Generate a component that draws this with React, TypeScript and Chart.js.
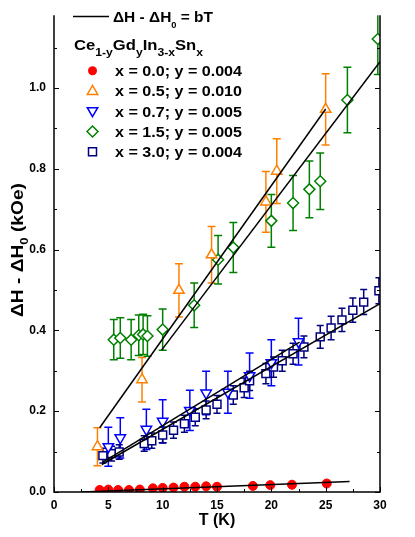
import React, { useEffect, useRef } from "react";
import { Chart, registerables } from "chart.js";
Chart.register(...registerables);

const FAM = '"Liberation Sans", Arial, Helvetica, sans-serif';

// x = 0.0 ; y = 0.004  (red circles)
const tX00 = [4.2, 5.0, 5.9, 6.9, 7.9, 9.1, 10.0, 11.0, 12.0, 13.0, 14.0, 15.0, 18.3, 19.9, 21.9, 25.1];
const vX00 = [0.005, 0.006, 0.005, 0.005, 0.006, 0.009, 0.010, 0.011, 0.013, 0.013, 0.014, 0.013, 0.015, 0.017, 0.018, 0.021];
// x = 0.5 ; y = 0.010 (orange up-triangles)
const tX05 = [4.0, 8.1, 11.5, 14.5, 19.5, 20.5, 25.0];
const vX05 = [0.112, 0.278, 0.499, 0.587, 0.718, 0.794, 0.947];
const eX05 = [0.047, 0.055, 0.066, 0.070, 0.075, 0.080, 0.088];
// x = 0.7 ; y = 0.005 (blue down-triangles)
const tX07 = [5.0, 6.1, 8.5, 10.0, 12.5, 14.0, 16.0, 18.0, 20.0, 22.5];
const vX07 = [0.112, 0.134, 0.155, 0.175, 0.202, 0.245, 0.247, 0.288, 0.320, 0.372];
const eX07 = [0.048, 0.050, 0.050, 0.053, 0.050, 0.054, 0.052, 0.056, 0.057, 0.058];
// x = 1.5 ; y = 0.005 (green diamonds)
const tX15 = [5.5, 6.1, 7.1, 7.8, 8.2, 8.6, 10.0, 12.9, 15.1, 16.5, 20.0, 22.0, 23.5, 24.5, 27.0, 29.8];
const vX15 = [0.377, 0.381, 0.377, 0.388, 0.390, 0.386, 0.402, 0.462, 0.575, 0.605, 0.671, 0.715, 0.749, 0.769, 0.970, 1.121];
const eX15 = [0.050, 0.050, 0.050, 0.050, 0.050, 0.050, 0.051, 0.055, 0.060, 0.062, 0.065, 0.068, 0.070, 0.070, 0.081, 0.088];
// x = 3.0 ; y = 0.004 (navy squares)
const tX30 = [4.5, 5.3, 6.0, 8.3, 9.0, 10.0, 11.0, 12.0, 13.0, 14.0, 15.0, 16.5, 17.5, 18.0, 19.5, 20.2, 21.0, 22.0, 23.0, 24.5, 25.5, 26.5, 27.5, 28.5, 29.9];
const vX30 = [0.090, 0.095, 0.099, 0.120, 0.127, 0.141, 0.153, 0.169, 0.185, 0.203, 0.217, 0.240, 0.258, 0.275, 0.293, 0.309, 0.325, 0.342, 0.359, 0.384, 0.406, 0.426, 0.450, 0.470, 0.498];
const eX30 = [0.018, 0.018, 0.018, 0.019, 0.019, 0.020, 0.020, 0.021, 0.021, 0.022, 0.022, 0.023, 0.024, 0.024, 0.025, 0.025, 0.026, 0.026, 0.027, 0.028, 0.029, 0.029, 0.030, 0.031, 0.032];

// linear fits  ΔH - ΔH0 = bT
const fitT00 = [2.6, 27.2];
const fitV00 = [0.0, 0.026];
const fitT05 = [4.2, 25.0];
const fitV05 = [0.159, 0.948];
const fitT07 = [4.5, 22.6];
const fitV07 = [0.074, 0.371];
const fitT15 = [9.9, 30.0];
const fitV15 = [0.351, 1.065];
const fitT30 = [4.4, 30.0];
const fitV30 = [0.068, 0.466];

const legendLabels = [
  "x = 0.0; y = 0.004",
  "x = 0.5; y = 0.010",
  "x = 0.7; y = 0.005",
  "x = 1.5; y = 0.005",
  "x = 3.0; y = 0.004",
];
const xTitle = "T (K)";

const RED = "#ff0000";
const ORANGE = "#ff8000";
const BLUE = "#0000ff";
const GREEN = "#008000";
const NAVY = "#000080";

const pts = (t: number[], v: number[]) => t.map((x, i) => ({ x, y: v[i] }));

function drawRich(
  ctx: CanvasRenderingContext2D,
  parts: [string, boolean][],
  x: number,
  y: number,
  size: number,
  subSize: number,
  subDy: number,
  targetW?: number
) {
  const fm = `bold ${size}px ${FAM}`;
  const fs = `bold ${subSize}px ${FAM}`;
  const widths = parts.map(([t, sub]) => {
    ctx.font = sub ? fs : fm;
    return ctx.measureText(t).width;
  });
  const total = widths.reduce((a, b) => a + b, 0);
  const sx = targetW ? targetW / total : 1;
  ctx.save();
  ctx.translate(x, y);
  ctx.scale(sx, 1);
  ctx.textBaseline = "alphabetic";
  ctx.textAlign = "left";
  ctx.fillStyle = "#000";
  let cx = 0;
  parts.forEach(([t, sub], i) => {
    ctx.font = sub ? fs : fm;
    ctx.fillText(t, cx, sub ? subDy : 0);
    cx += widths[i];
  });
  ctx.restore();
  return total * sx;
}

function drawMarker(ctx: CanvasRenderingContext2D, kind: string, x: number, y: number, color: string) {
  ctx.save();
  ctx.lineWidth = 1.5;
  ctx.strokeStyle = color;
  ctx.fillStyle = "#fff";
  ctx.beginPath();
  if (kind === "circle") {
    ctx.fillStyle = color;
    ctx.arc(x, y, 4.5, 0, Math.PI * 2);
    ctx.fill();
  } else {
    if (kind === "up") {
      ctx.moveTo(x, y - 5.5);
      ctx.lineTo(x + 5.2, y + 3.5);
      ctx.lineTo(x - 5.2, y + 3.5);
    } else if (kind === "down") {
      ctx.moveTo(x, y + 5.5);
      ctx.lineTo(x + 5.2, y - 3.5);
      ctx.lineTo(x - 5.2, y - 3.5);
    } else if (kind === "diamond") {
      ctx.moveTo(x - 5.5, y);
      ctx.lineTo(x, y - 5.5);
      ctx.lineTo(x + 5.5, y);
      ctx.lineTo(x, y + 5.5);
    } else {
      ctx.rect(x - 4, y - 4, 8, 8);
    }
    ctx.closePath();
    ctx.fill();
    ctx.stroke();
  }
  ctx.restore();
}

const errorBarPlugin = {
  id: "errorBars",
  beforeDatasetsDraw(chart: any) {
    const { ctx, chartArea } = chart;
    const xs = chart.scales.x;
    const ys = chart.scales.y;
    ctx.save();
    ctx.beginPath();
    ctx.rect(chartArea.left, chartArea.top, chartArea.right - chartArea.left, chartArea.bottom - chartArea.top);
    ctx.clip();
    chart.data.datasets.forEach((ds: any) => {
      if (!ds.errors) return;
      ctx.strokeStyle = ds.borderColor;
      ctx.lineWidth = 1.5;
      const cap = ds.capHalf || 4;
      ds.data.forEach((p: any, i: number) => {
        const e = ds.errors[i];
        const px = xs.getPixelForValue(p.x);
        const y1 = ys.getPixelForValue(p.y + e);
        const y2 = ys.getPixelForValue(p.y - e);
        ctx.beginPath();
        ctx.moveTo(px, y1);
        ctx.lineTo(px, y2);
        ctx.moveTo(px - cap, y1);
        ctx.lineTo(px + cap, y1);
        ctx.moveTo(px - cap, y2);
        ctx.lineTo(px + cap, y2);
        ctx.stroke();
      });
    });
    ctx.restore();
  },
};

const framePlugin = {
  id: "frame",
  afterDatasetsDraw(chart: any) {
    const { ctx, chartArea } = chart;
    const xs = chart.scales.x;
    const ys = chart.scales.y;
    const { left, right, bottom, top } = chartArea;
    ctx.save();
    ctx.strokeStyle = "#000";
    ctx.lineWidth = 1.5;
    ctx.beginPath();
    ctx.moveTo(left, top);
    ctx.lineTo(left, bottom);
    ctx.lineTo(right, bottom);
    ctx.lineTo(right, top);
    ctx.stroke();
    ctx.lineWidth = 1;
    ctx.beginPath();
    for (let v = 0; v <= 30.001; v += 2.5) {
      const major = Math.abs(v / 5 - Math.round(v / 5)) < 1e-6;
      const px = Math.round(xs.getPixelForValue(v)) + 0.5;
      const len = major ? 5 : 3;
      ctx.moveTo(px, bottom);
      ctx.lineTo(px, bottom - len);
    }
    for (let v = 0; v <= 1.1501; v += 0.1) {
      const major = Math.abs(v / 0.2 - Math.round(v / 0.2)) < 1e-6;
      const py = Math.round(ys.getPixelForValue(v)) + 0.5;
      const len = major ? 5 : 3;
      ctx.moveTo(left, py);
      ctx.lineTo(left + len, py);
      ctx.moveTo(right, py);
      ctx.lineTo(right - len, py);
    }
    ctx.stroke();
    ctx.restore();
  },
  afterDraw(chart: any) {
    const { ctx, chartArea } = chart;
    // x title
    ctx.save();
    ctx.font = `bold 16px ${FAM}`;
    ctx.fillStyle = "#000";
    ctx.textAlign = "center";
    ctx.textBaseline = "alphabetic";
    ctx.fillText(xTitle, (chartArea.left + chartArea.right) / 2, 525);
    ctx.restore();
    // y title
    ctx.save();
    ctx.translate(23, 250);
    ctx.rotate(-Math.PI / 2);
    drawRich(ctx, [["ΔH - ΔH", false], ["0", true], [" (kOe)", false]], -67, 0, 16, 11, 5, 134);
    ctx.restore();
    // legend
    ctx.save();
    ctx.strokeStyle = "#000";
    ctx.lineWidth = 1.5;
    ctx.beginPath();
    ctx.moveTo(73, 16.5);
    ctx.lineTo(109, 16.5);
    ctx.stroke();
    ctx.restore();
    drawRich(ctx, [["ΔH - ΔH", false], ["0", true], [" = bT", false]], 113, 22, 15, 9, 6, 100);
    drawRich(
      ctx,
      [["Ce", false], ["1-y", true], ["Gd", false], ["y", true], ["In", false], ["3-x", true], ["Sn", false], ["x", true]],
      74, 50, 15, 11, 6, 129
    );
    const kinds = ["circle", "up", "down", "diamond", "square"];
    const cols = [RED, ORANGE, BLUE, GREEN, NAVY];
    legendLabels.forEach((lab, i) => {
      const cy = 70.7 + i * 20.25;
      drawMarker(ctx, kinds[i], 92.5, cy, cols[i]);
      drawRich(ctx, [[lab, false]], 115, cy + 5.3, 15, 10, 0, 127);
    });
  },
};

function lineDs(t: number[], v: number[]) {
  return {
    data: pts(t, v),
    showLine: true,
    borderColor: "#000",
    borderWidth: 1.5,
    pointRadius: 0,
    fill: false,
    clip: 0,
  };
}

export default function App() {
  const ref = useRef<HTMLCanvasElement | null>(null);
  useEffect(() => {
    if (!ref.current) return;
    const tickFont = { family: FAM, size: 12, weight: "bold" as const };
    const chart = new Chart(ref.current, {
      type: "scatter",
      data: {
        datasets: [
          lineDs(fitT00, fitV00),
          lineDs(fitT05, fitV05),
          lineDs(fitT07, fitV07),
          lineDs(fitT15, fitV15),
          lineDs(fitT30, fitV30),
          {
            data: pts(tX00, vX00),
            pointStyle: "circle",
            pointRadius: 4.5,
            backgroundColor: RED,
            borderColor: RED,
            borderWidth: 1,
            clip: 0,
          },
          {
            data: pts(tX05, vX05),
            errors: eX05,
            pointStyle: "triangle",
            pointRadius: 6,
            backgroundColor: "#fff",
            borderColor: ORANGE,
            borderWidth: 1.5,
            clip: 0,
          },
          {
            data: pts(tX07, vX07),
            errors: eX07,
            pointStyle: "triangle",
            rotation: 180,
            pointRadius: 6,
            backgroundColor: "#fff",
            borderColor: BLUE,
            borderWidth: 1.5,
            clip: 0,
          },
          {
            data: pts(tX15, vX15),
            errors: eX15,
            pointStyle: "rectRot",
            pointRadius: 5.5,
            backgroundColor: "#fff",
            borderColor: GREEN,
            borderWidth: 1.5,
            clip: 0,
          },
          {
            data: pts(tX30, vX30),
            errors: eX30,
            capHalf: 3.5,
            pointStyle: "rect",
            pointRadius: 5.6,
            backgroundColor: "#fff",
            borderColor: NAVY,
            borderWidth: 1.5,
            clip: 0,
          },
        ] as any,
      },
      options: {
        animation: false,
        responsive: false,
        maintainAspectRatio: false,
        layout: { padding: { top: 0, right: 35, left: 0, bottom: 0 } },
        plugins: { legend: { display: false }, tooltip: { enabled: false } },
        scales: {
          x: {
            type: "linear",
            min: 0,
            max: 30,
            afterFit: (s: any) => {
              s.height = 45;
            },
            grid: { display: false, drawTicks: false, tickLength: 0 },
            border: { display: false },
            ticks: { stepSize: 5, padding: 6, color: "#000", font: tickFont, maxRotation: 0, autoSkip: false },
          },
          y: {
            type: "linear",
            min: 0,
            max: 1.18,
            afterFit: (s: any) => {
              s.width = 54;
            },
            grid: { display: false, drawTicks: false, tickLength: 0 },
            border: { display: false },
            ticks: {
              stepSize: 0.2,
              includeBounds: false,
              padding: 8,
              color: "#000",
              font: tickFont,
              callback: (v: any) => Number(v).toFixed(1),
            },
          },
        },
      } as any,
      plugins: [errorBarPlugin, framePlugin],
    });
    return () => chart.destroy();
  }, []);
  return (
    <div style={{ position: "absolute", left: 0, top: 0, width: 415, height: 537, background: "#fff" }}>
      <canvas ref={ref} width={415} height={537} style={{ width: 415, height: 537, display: "block" }} />
    </div>
  );
}
